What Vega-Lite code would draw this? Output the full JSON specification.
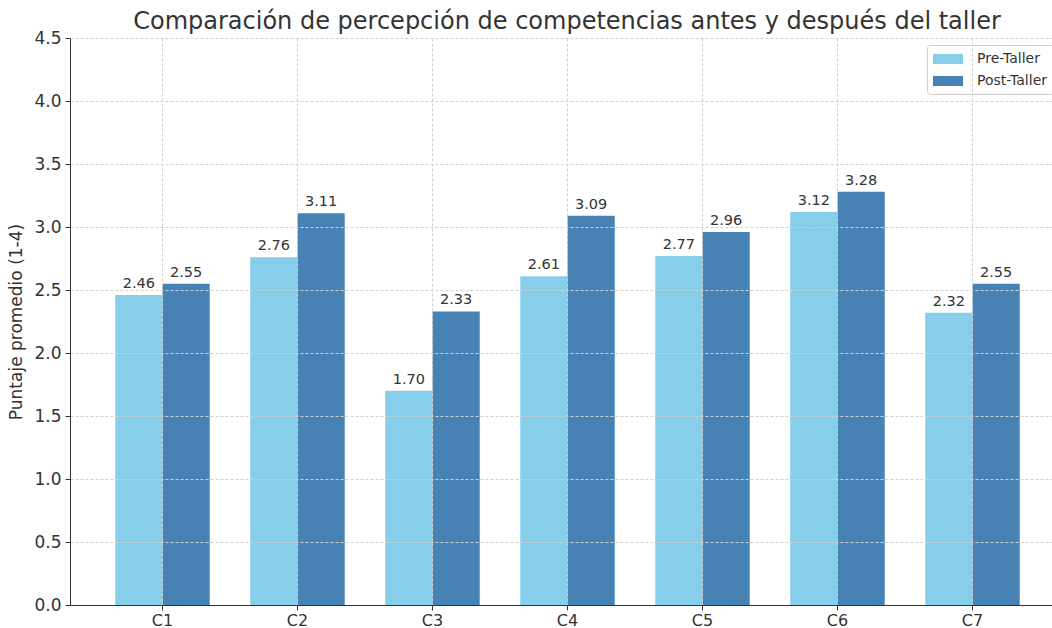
{
  "$schema": "https://vega.github.io/schema/vega-lite/v6.json",
  "width": 982,
  "height": 567,
  "autosize": {"type": "none"},
  "padding": {"left": 70, "top": 38, "right": 0, "bottom": 23},
  "background": "white",
  "config": {
    "font": "DejaVu Sans",
    "view": {"stroke": null},
    "axis": {
      "domainColor": "#333333",
      "tickColor": "#333333",
      "labelColor": "#333333",
      "titleColor": "#333333",
      "gridColor": "#d0d0d0",
      "gridDash": [3, 2],
      "gridWidth": 1,
      "tickSize": 5,
      "labelFontSize": 17,
      "titleFontSize": 17,
      "titleFontWeight": "normal"
    }
  },
  "title": {
    "text": "Comparación de percepción de competencias antes y después del taller",
    "fontSize": 24,
    "fontWeight": "normal",
    "color": "#333333",
    "anchor": "middle",
    "dx": 6,
    "offset": -5
  },
  "data": {
    "values": [
      {"c": "C1", "grupo": "Pre-Taller", "v": 2.46},
      {"c": "C1", "grupo": "Post-Taller", "v": 2.55},
      {"c": "C2", "grupo": "Pre-Taller", "v": 2.76},
      {"c": "C2", "grupo": "Post-Taller", "v": 3.11},
      {"c": "C3", "grupo": "Pre-Taller", "v": 1.70},
      {"c": "C3", "grupo": "Post-Taller", "v": 2.33},
      {"c": "C4", "grupo": "Pre-Taller", "v": 2.61},
      {"c": "C4", "grupo": "Post-Taller", "v": 3.09},
      {"c": "C5", "grupo": "Pre-Taller", "v": 2.77},
      {"c": "C5", "grupo": "Post-Taller", "v": 2.96},
      {"c": "C6", "grupo": "Pre-Taller", "v": 3.12},
      {"c": "C6", "grupo": "Post-Taller", "v": 3.28},
      {"c": "C7", "grupo": "Pre-Taller", "v": 2.32},
      {"c": "C7", "grupo": "Post-Taller", "v": 2.55}
    ]
  },
  "encoding": {
    "x": {
      "field": "c",
      "type": "nominal",
      "sort": null,
      "scale": {"paddingInner": 0, "paddingOuter": 0.137, "align": 0.675},
      "axis": {"title": null, "labelAngle": 0, "grid": true, "bandPosition": 0.5, "labelPadding": 2, "labelFontSize": 16, "zindex": 1}
    },
    "xOffset": {
      "field": "grupo",
      "type": "nominal",
      "sort": ["Pre-Taller", "Post-Taller"],
      "scale": {"paddingInner": 0, "paddingOuter": 0.4286}
    },
    "y": {
      "field": "v",
      "type": "quantitative",
      "scale": {"domain": [0, 4.5], "nice": false},
      "axis": {
        "title": "Puntaje promedio (1-4)",
        "values": [0, 0.5, 1, 1.5, 2, 2.5, 3, 3.5, 4, 4.5],
        "format": ".1f",
        "grid": true,
        "titlePadding": 8,
        "labelPadding": 4,
        "zindex": 1
      }
    }
  },
  "layer": [
    {
      "mark": {"type": "bar"},
      "encoding": {
        "color": {
          "field": "grupo",
          "type": "nominal",
          "sort": ["Pre-Taller", "Post-Taller"],
          "scale": {"domain": ["Pre-Taller", "Post-Taller"], "range": ["#87CEEB", "#4682B4"]},
          "legend": {
            "title": null,
            "orient": "none",
            "legendX": 857,
            "legendY": 7,
            "fillColor": "white",
            "strokeColor": "#cccccc",
            "cornerRadius": 3,
            "padding": 6,
            "symbolType": "M-1.875,-0.625H1.875V0.625H-1.875Z",
            "symbolSize": 256,
            "symbolOffset": 7,
            "symbolStrokeWidth": 0,
            "symbolOpacity": 1,
            "labelFontSize": 14,
            "labelColor": "#333333",
            "labelOffset": 21,
            "rowPadding": 7
          }
        }
      }
    },
    {
      "mark": {"type": "text", "baseline": "alphabetic", "dy": -7, "fontSize": 14.5, "color": "#333333"},
      "encoding": {
        "text": {"field": "v", "type": "quantitative", "format": ".2f"}
      }
    }
  ]
}
